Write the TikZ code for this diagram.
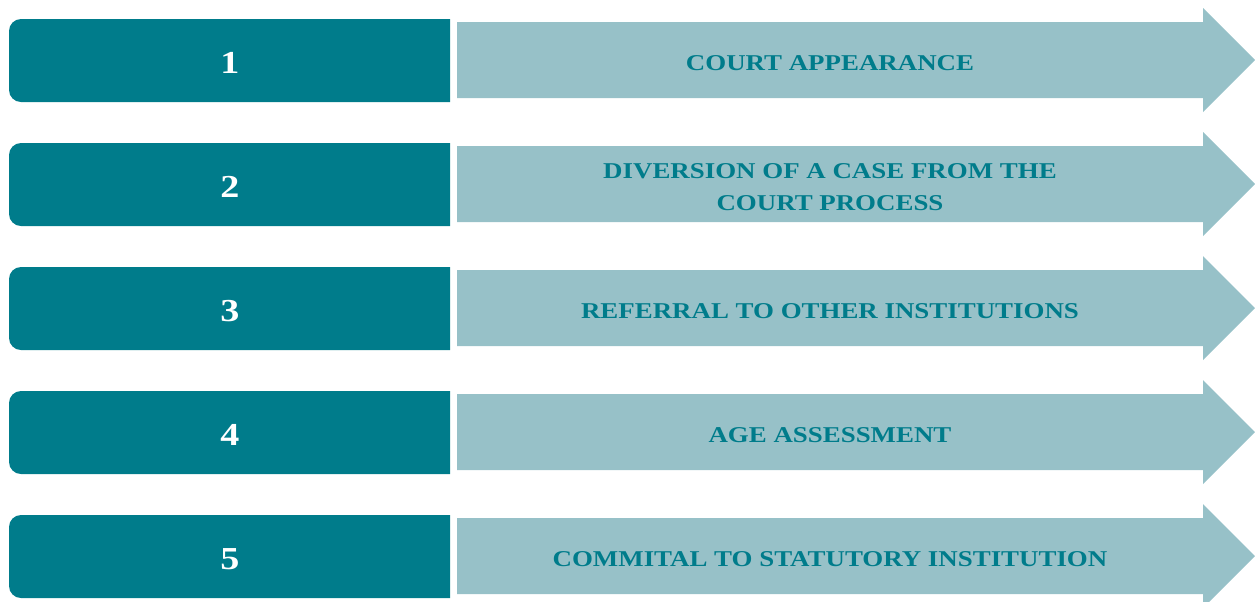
\documentclass[tikz,border=0pt]{standalone}
\usepackage{fontspec}
\setmainfont[FakeStretch=1.19]{Liberation Serif}
\usepackage{tikz}
\usetikzlibrary{positioning,calc}
\definecolor{darkteal}{RGB}{0,124,139}
\definecolor{paleteal}{RGB}{151,193,200}

\begin{document}
\begin{tikzpicture}[x=0.5pt,y=-0.5pt,
    numtext/.style={text=white,font=\fontsize{16}{18}\selectfont\bfseries},
    steptext/.style={text=darkteal,align=center,font=\fontsize{11.3}{16}\selectfont\bfseries}]
    % page frame
    \useasboundingbox (0,0) rectangle (1255,601);
    \clip (0,0) rectangle (1255,601);
    \def\rowgap{124}
    \foreach \i/\txt in {1/COURT APPEARANCE,
                         2/{DIVERSION OF A CASE FROM THE\\COURT PROCESS},
                         3/REFERRAL TO OTHER INSTITUTIONS,
                         4/AGE ASSESSMENT,
                         5/COMMITAL TO STATUTORY INSTITUTION} {
        \pgfmathsetmacro{\oy}{\rowgap*(\i-1)}
        % number box, rounded on the left side only
        \fill[darkteal] (450,19+\oy) [rounded corners=6pt] -- (9,19+\oy) -- (9,102+\oy) [sharp corners] -- (450,102+\oy) -- cycle;
        % arrow behind the label
        \fill[paleteal] (457,22+\oy) -- (1203,22+\oy) -- (1203,8+\oy) -- (1255,60+\oy)
            -- (1203,112+\oy) -- (1203,98+\oy) -- (457,98+\oy) -- cycle;
        \node[numtext] (num\i) at (230,63+\oy) {\i};
        \node[steptext] (label\i) at (830,63+\oy) {\txt};
    }
\end{tikzpicture}
\end{document}
